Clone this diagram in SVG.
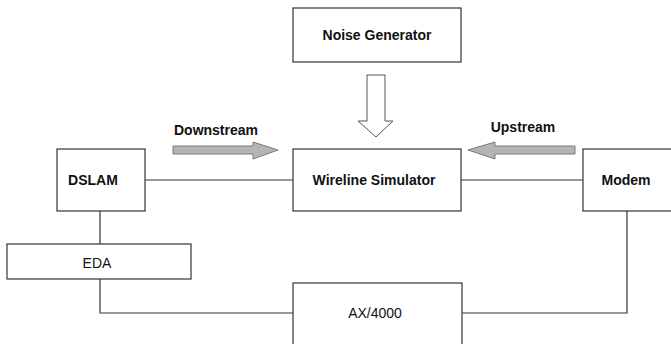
<svg xmlns="http://www.w3.org/2000/svg" width="671" height="344" viewBox="0 0 671 344">
<style>
.box{fill:#fff;stroke:#333;stroke-width:1.2}
.lbl{font-family:"Liberation Sans",Arial,sans-serif;font-size:14px;font-weight:bold;fill:#111;text-anchor:middle}
.reg{font-weight:normal}
.wire{fill:none;stroke:#333;stroke-width:1.2}
.flow{fill:#b4b4b4;stroke:#7a7a7a;stroke-width:1}
</style>
<rect width="671" height="344" fill="#fff"/>
<g id="connectors">
<path class="wire" d="M145,180 H293"/>
<path class="wire" d="M461,180 H583"/>
<path class="wire" d="M100,211 V244"/>
<path class="wire" d="M100,279 V313 H293"/>
<path class="wire" d="M461,313 H627 V211"/>
<path id="noise-arrow" d="M367,75 H385 V121 H393 L376,137 L358,121 H367 Z" fill="#fff" stroke="#555" stroke-width="1"/>
<path id="downstream-arrow" class="flow" d="M173,146 H253 V142 L278,150 L253,159 V154 H173 Z"/>
<path id="upstream-arrow" class="flow" d="M575,146 H495 V142 L468,150 L495,159 V154 H575 Z"/>
<text class="lbl" x="216" y="135">Downstream</text>
<text class="lbl" x="523" y="132">Upstream</text>
</g>
<g id="noise"><rect class="box" x="293" y="8" width="168" height="54"/><text class="lbl" x="377" y="40">Noise Generator</text></g>
<g id="wireline"><rect class="box" x="293" y="149" width="168" height="62"/><text class="lbl" x="374" y="185">Wireline Simulator</text></g>
<g id="dslam"><rect class="box" x="57" y="149" width="88" height="62"/><text class="lbl" x="93" y="185">DSLAM</text></g>
<g id="modem"><rect class="box" x="583" y="149" width="100" height="62"/><text class="lbl" x="626" y="185">Modem</text></g>
<g id="eda"><rect class="box" x="7" y="244" width="184" height="35"/><text class="lbl reg" x="97" y="268">EDA</text></g>
<g id="ax4000"><rect class="box" x="293" y="283" width="169" height="70"/><text class="lbl reg" x="375" y="318">AX/4000</text></g>
</svg>
